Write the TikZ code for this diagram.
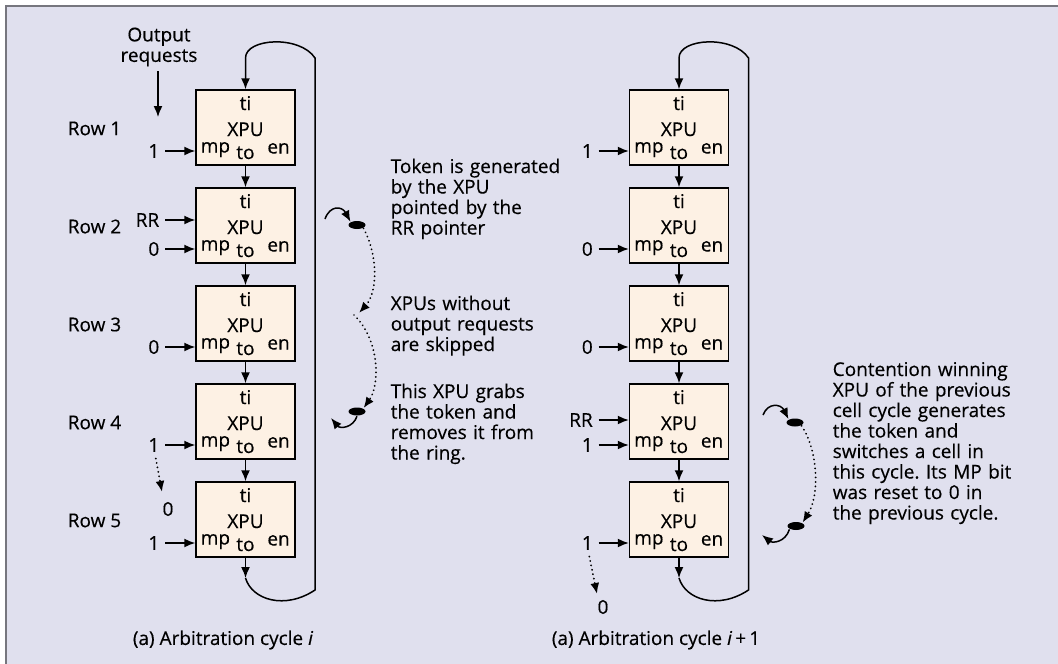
\documentclass[tikz,border=0pt]{standalone}
\usepackage{fontspec}
\setmainfont{Open Sans}[FakeBold=0.35]
\usetikzlibrary{arrows.meta,calc,shapes.geometric}
\definecolor{bgcol}{HTML}{E0E0EE}
\definecolor{boxcol}{HTML}{FDF1E4}
\definecolor{framecol}{HTML}{76767E}
\frenchspacing
\begin{document}
\begin{tikzpicture}[x=1pt,y=-1pt,
  font=\fontsize{19}{20.5}\selectfont,
  line width=1.5pt,
  every node/.style={inner sep=0pt},
  tip/.style={-{Latex[length=11pt,width=9pt]}},
  xpu/.style={draw, fill=boxcol, minimum width=99pt, minimum height=75pt, inner sep=0pt},
  inlbl/.style={anchor=east},
  dotline/.style={line width=2pt, dash pattern=on 0.01pt off 4.5pt, line cap=round},
  token/.style={ellipse, fill=black, minimum width=17pt, minimum height=8pt, inner sep=0pt},
  note/.style={inner sep=0pt, text width=230pt, align=left, anchor=base west},
]
\useasboundingbox (0,0) rectangle (1058,664);
\fill[white] (0,0) rectangle (1058,664);
\fill[bgcol] (6,6) rectangle (1058,664);
\draw[framecol, line width=2pt] (6,664) -- (6,6) -- (1058,6);

% boxes and rings
\foreach \s/\cx in {L/245.5, R/679} {
  \foreach \k/\ty in {1/90, 2/188, 3/286, 4/384, 5/482} {
    \node[xpu] (\s\k) at (\cx, \ty+37.5) {};
    \node[anchor=base] (\s\k-ti) at (\cx, \ty+20) {ti};
    \node[anchor=base] (\s\k-xpu) at (\cx, \ty+46) {XPU};
    \node[anchor=base west] (\s\k-mp) at (\cx-45.5, \ty+62.5) {mp};
    \node[anchor=base] (\s\k-to) at (\cx, \ty+69) {to};
    \node[anchor=base east] (\s\k-en) at (\cx+45, \ty+63.5) {en};
  }
  \foreach \a/\b in {1/2, 2/3, 3/4, 4/5} {
    \draw[tip] (\s\a.south) -- (\s\b.north);
  }
  \coordinate (\s-bt) at (\cx, 578);
  \coordinate (\s-rb) at (\cx+69.5, 590);
  \coordinate (\s-rt) at (\cx+69.5, 58);
  \coordinate (\s-tp) at (\cx, 58);
  \draw[tip] (\s5.south) -- (\s-bt);
  \draw[tip] (\s-bt) .. controls (\cx+6.5,600) and (\cx+39.5,610) .. (\s-rb)
     -- (\s-rt) .. controls (\cx+54.5,35) and (\cx,38) .. (\s-tp) -- (\s1.north);
}

% row labels
\foreach \k/\ty in {1/90, 2/188, 3/286, 4/384, 5/482} {
  \node (row\k) at (94.5, \ty+38.5) {Row \k};
}

% output requests
\node[align=center] (outreq) at (159,47) {Output\\requests};
\coordinate (outend) at (158,117);
\draw[tip, shorten <=4pt] (outreq.south -| outend) -- (outend);

% left inputs
\node[inlbl] (iL1) at (160,151) {1};
\node[inlbl] (rrL2) at (160,220) {RR};
\node[inlbl] (iL2) at (160,249) {0};
\node[inlbl] (iL3) at (160,347) {0};
\node[inlbl] (iL4) at (160,445) {1};
\node[inlbl] (iL5) at (160,543) {1};
\foreach \n/\b in {iL1/L1, rrL2/L2, iL2/L2, iL3/L3, iL4/L4, iL5/L5} {
  \draw[tip, shorten <=5pt] (\n.east) -- (\n.east -| \b.west);
}
\node (zL) at (168,509) {0};
\coordinate (zLtip) at (162,492);
\draw[dotline, tip] ($(iL4.south)+(2,6)$) -- (zLtip);

% right inputs
\node[inlbl] (iR1) at (593.5,151) {1};
\node[inlbl] (iR2) at (593.5,249) {0};
\node[inlbl] (iR3) at (593.5,347) {0};
\node[inlbl] (rrR4) at (593.5,420) {RR};
\node[inlbl] (iR4) at (593.5,445) {1};
\node[inlbl] (iR5) at (593.5,543) {1};
\foreach \n/\b in {iR1/R1, iR2/R2, iR3/R3, rrR4/R4, iR4/R4, iR5/R5} {
  \draw[tip, shorten <=5pt] (\n.east) -- (\n.east -| \b.west);
}
\node (zR) at (603,607) {0};
\coordinate (zRtip) at (597,594);
\draw[dotline, tip] ($(iR5.south)+(2,6)$) -- (zRtip);

% captions
\node (capL) at (223,640) {(a) Arbitration cycle \textit{i}};
\node (capR) at (656,640) {(a) Arbitration cycle \textit{i}\,+\,1};

% annotations left
\node[note] (t1) at (390,173) {Token is generated\\by the XPU\\pointed by the\\RR pointer};
\node[note] (t2) at (390,310) {XPUs without\\output requests\\are skipped};
\node[note] (t3) at (390,398) {This XPU grabs\\the token and\\removes it from\\the ring.};
\node[token] (E1) at (357,225) {};
\node[token] (E2) at (357,411.5) {};
\coordinate (a1) at (325,219);
\draw[tip] (a1) .. controls (330,205) and (342,206) .. (E1.north west);
\coordinate (m1) at (359,313);
\draw[dotline,tip] (E1.south east) .. controls (378,255) and (378,292) .. (m1);
\coordinate (m1b) at (354,315);
\draw[dotline,tip] (m1b) .. controls (380,340) and (380,385) .. (E2.north east);
\coordinate (a2) at (331,418);
\draw[tip] (E2.south) .. controls (353,428) and (340,429) .. (a2);

% annotations right
\node[note, text width=220pt] (t4) at (832,376) {Contention winning\\XPU of the previous\\cell cycle generates\\the token and\\switches a cell in\\this cycle. Its MP bit\\was reset to 0 in\\the previous cycle.};
\node[token] (E3) at (795,422.5) {};
\node[token] (E4) at (796,526) {};
\coordinate (a3) at (763,415);
\draw[tip] (a3) .. controls (768,402) and (781,404) .. (E3.north west);
\draw[dotline,tip] (E3.south east) .. controls (818,450) and (820,495) .. (E4.north east);
\coordinate (a4) at (762,535);
\draw[tip] (E4.south west) .. controls (785,543) and (772,543) .. (a4);
\end{tikzpicture}
\end{document}
